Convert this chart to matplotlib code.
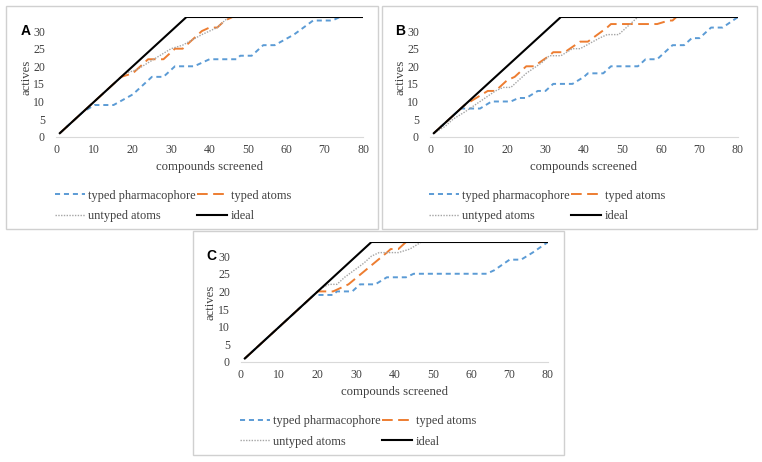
import numpy as np
import matplotlib.pyplot as plt
from matplotlib.patches import Rectangle

# ukuran gambar dalam piksel
W, H = 762, 462

# --- data panel A ---
a_pharm_x = [1, 7, 10, 15, 20, 25, 28, 31, 36, 40, 47, 48, 51, 54, 57, 62, 67, 72, 74, 80]
a_pharm_y = [1, 7, 9, 9, 12, 17, 17, 20, 20, 22, 22, 23, 23, 26, 26, 29, 33, 33, 34, 34]
a_atoms_x = [1, 17, 20, 24, 28, 31, 33, 38, 40, 42, 44, 46, 80]
a_atoms_y = [1, 17, 18, 22, 22, 25, 25, 30, 31, 31, 33, 34, 34]
a_untyp_x = [1, 18, 21, 24, 27, 30, 33, 38, 42, 45, 80]
a_untyp_y = [1, 18, 19, 21, 23, 25, 26, 29, 31, 34, 34]

# --- data panel B ---
b_pharm_x = [1, 8, 13, 16, 21, 23, 25, 28, 30, 32, 37, 40, 41, 45, 47, 54, 56, 59, 63, 66, 68, 70, 73, 76, 80]
b_pharm_y = [1, 8, 8, 10, 10, 11, 11, 13, 13, 15, 15, 17, 18, 18, 20, 20, 22, 22, 26, 26, 28, 28, 31, 31, 34]
b_atoms_x = [1, 9, 12, 15, 17, 20, 22, 25, 27, 31, 32, 35, 39, 41, 46, 47, 59, 62, 63, 64, 80]
b_atoms_y = [1, 9, 11, 13, 13, 16, 17, 20, 20, 23, 24, 24, 27, 27, 31, 32, 32, 33, 33, 34, 34]
b_untyp_x = [1, 4, 6, 9, 13, 17, 19, 21, 25, 29, 31, 34, 37, 39, 44, 46, 49, 51, 54, 80]
b_untyp_y = [1, 3, 5, 7, 10, 13, 14, 14, 18, 21, 23, 23, 25, 25, 28, 29, 29, 31, 34, 34]

# --- data panel C ---
c_pharm_x = [1, 19, 24, 25, 29, 31, 35, 38, 43, 45, 64, 66, 70, 73, 76, 80]
c_pharm_y = [1, 19, 19, 20, 20, 22, 22, 24, 24, 25, 25, 26, 29, 29, 31, 34]
c_atoms_x = [1, 20, 24, 26, 28, 38, 39, 41, 43, 80]
c_atoms_y = [1, 20, 20, 21, 22, 31, 32, 32, 34, 34]
c_untyp_x = [1, 21, 23, 25, 27, 32, 34, 36, 41, 44, 47, 80]
c_untyp_y = [1, 21, 22, 22, 24, 28, 30, 31, 31, 32, 34, 34]

ideal_x = [1, 34, 80]
ideal_y = [1, 34, 34]

labels = ['typed pharmacophore', 'typed atoms', 'untyped atoms', 'ideal']
x_ticks = [0, 10, 20, 30, 40, 50, 60, 70, 80]
y_ticks = [0, 5, 10, 15, 20, 25, 30]

serif = 'Liberation Serif'
txt_color = '#404040'


def px_rect(x0, y0, x1, y1):
    return [x0 / W, 1 - y1 / H, (x1 - x0) / W, (y1 - y0) / H]


def panel(fig, ax_px, box_px, letter, pharm, atoms, untyp):
    # bingkai panel
    fig.patches.append(Rectangle((box_px[0] / W, 1 - box_px[3] / H),
                                 (box_px[2] - box_px[0]) / W, (box_px[3] - box_px[1]) / H,
                                 transform=fig.transFigure, fill=False,
                                 edgecolor='#d0d0d0', linewidth=1.0))
    ax = fig.add_axes(px_rect(*ax_px))
    l1, = ax.plot(pharm[0], pharm[1], color='#5B9BD5', lw=1.4, linestyle=(0, (2.6, 2.0)))
    l2, = ax.plot(atoms[0], atoms[1], color='#ED7D31', lw=1.4, linestyle=(0, (5.5, 2.8)))
    l3, = ax.plot(untyp[0], untyp[1], color='#A5A5A5', lw=1.0, linestyle=(0, (1, 1)))
    l4, = ax.plot(ideal_x, ideal_y, color='black', lw=1.5)
    ax.set_xlim(0, 80)
    ax.set_ylim(0, 34)
    ax.set_xticks(x_ticks)
    ax.set_yticks(y_ticks)
    ax.tick_params(length=0, labelsize=8.5, labelcolor=txt_color)
    ax.tick_params(axis='x', pad=5)
    ax.tick_params(axis='y', pad=8)
    for t in ax.get_xticklabels() + ax.get_yticklabels():
        t.set_fontfamily(serif)
    for s in ['top', 'right', 'left']:
        ax.spines[s].set_visible(False)
    ax.spines['bottom'].set_color('#d9d9d9')
    ax.set_xlabel('compounds screened', fontsize=9.2, family=serif, color=txt_color, labelpad=4)
    ax.set_ylabel('actives', fontsize=9.2, family=serif, color=txt_color, va='center')
    ax.yaxis.set_label_coords(-30 / (ax_px[2] - ax_px[0]), 0.5)
    # huruf panel
    fig.text((ax_px[0] - 30) / W, 1 - (ax_px[3] - 106) / H, letter,
             fontsize=10, fontweight='bold', family='Liberation Sans',
             ha='center', va='center')
    ax.legend([l1, l3, l2, l4], [labels[0], labels[2], labels[1], labels[3]],
              ncol=2, frameon=False, prop={'family': serif, 'size': 8.9},
              loc='upper left', bbox_to_anchor=((ax_px[0] - 1) / W, 1 - (ax_px[3] + 53) / H),
              bbox_transform=fig.transFigure, borderpad=0, borderaxespad=0,
              handlelength=2.4, handletextpad=0.3, columnspacing=0.1,
              labelspacing=0.7, labelcolor=txt_color)
    return ax


fig = plt.figure(figsize=(W / 100, H / 100), dpi=100)

panel(fig, (56, 17, 363, 136.7), (6, 6, 378, 229), 'A',
      (a_pharm_x, a_pharm_y), (a_atoms_x, a_atoms_y), (a_untyp_x, a_untyp_y))
panel(fig, (430, 17, 738, 136.7), (382, 6, 757, 229), 'B',
      (b_pharm_x, b_pharm_y), (b_atoms_x, b_atoms_y), (b_untyp_x, b_untyp_y))
panel(fig, (241, 242, 548, 362), (193, 231, 564, 455), 'C',
      (c_pharm_x, c_pharm_y), (c_atoms_x, c_atoms_y), (c_untyp_x, c_untyp_y))

fig.savefig('out.png', dpi=100)
